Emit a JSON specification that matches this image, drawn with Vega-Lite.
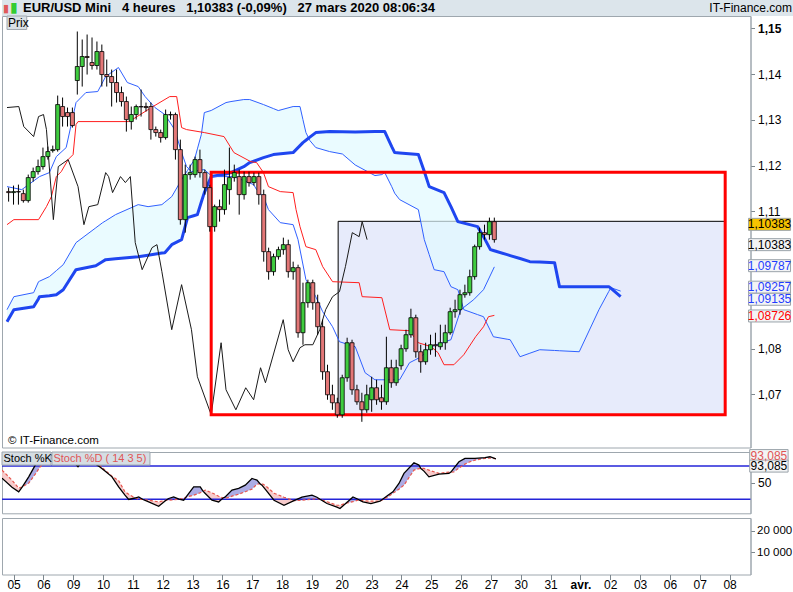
{
  "$schema": "https://vega.github.io/schema/vega-lite/v6.json",
  "padding": 0,
  "background": "white",
  "spacing": 0,
  "bounds": "flush",
  "config": {
    "font": "Liberation Sans",
    "view": {"stroke": "#9ea7ae"},
    "axis": {"labelFont": "Liberation Sans", "labelFontSize": 12, "labelColor": "#000", "tickColor": "#7d878e", "domainColor": "#9ea7ae", "grid": false},
    "text": {"font": "Liberation Sans"}
  },
  "datasets": {
    "bougies": [
      {"i":-2,"o":1.11433,"h":1.11520,"l":1.11214,"c":1.11411},
      {"i":-1,"o":1.11411,"h":1.11564,"l":1.11148,"c":1.11433},
      {"i":0,"o":1.11433,"h":1.11586,"l":1.11148,"c":1.11425},
      {"i":1,"o":1.11389,"h":1.11476,"l":1.11192,"c":1.11236},
      {"i":2,"o":1.11236,"h":1.11805,"l":1.11192,"c":1.11739},
      {"i":3,"o":1.11739,"h":1.11958,"l":1.11651,"c":1.11870},
      {"i":4,"o":1.11870,"h":1.12133,"l":1.11805,"c":1.11980},
      {"i":5,"o":1.11980,"h":1.12395,"l":1.11914,"c":1.12198},
      {"i":6,"o":1.12198,"h":1.12417,"l":1.12133,"c":1.12308},
      {"i":7,"o":1.12330,"h":1.12439,"l":1.12286,"c":1.12351},
      {"i":8,"o":1.12351,"h":1.13533,"l":1.12308,"c":1.13336},
      {"i":9,"o":1.13293,"h":1.13490,"l":1.12855,"c":1.13074},
      {"i":10,"o":1.13161,"h":1.13271,"l":1.12855,"c":1.13074},
      {"i":11,"o":1.13161,"h":1.13271,"l":1.12833,"c":1.12877},
      {"i":12,"o":1.13862,"h":1.14934,"l":1.13555,"c":1.14168},
      {"i":13,"o":1.14168,"h":1.14759,"l":1.13730,"c":1.14387},
      {"i":14,"o":1.14387,"h":1.14868,"l":1.13993,"c":1.14365},
      {"i":15,"o":1.14255,"h":1.14803,"l":1.14102,"c":1.14190},
      {"i":16,"o":1.14190,"h":1.14715,"l":1.14102,"c":1.14496},
      {"i":17,"o":1.14496,"h":1.14649,"l":1.13730,"c":1.13993},
      {"i":18,"o":1.13993,"h":1.14321,"l":1.13730,"c":1.13949},
      {"i":19,"o":1.13949,"h":1.14102,"l":1.13293,"c":1.13818},
      {"i":20,"o":1.13818,"h":1.14102,"l":1.13380,"c":1.13599},
      {"i":21,"o":1.13599,"h":1.13730,"l":1.13293,"c":1.13402},
      {"i":22,"o":1.13402,"h":1.13511,"l":1.12745,"c":1.13008},
      {"i":23,"o":1.12964,"h":1.13293,"l":1.12789,"c":1.13118},
      {"i":24,"o":1.13118,"h":1.13336,"l":1.13008,"c":1.13293},
      {"i":25,"o":1.13293,"h":1.13665,"l":1.13074,"c":1.13285},
      {"i":26,"o":1.13293,"h":1.13380,"l":1.13183,"c":1.13271},
      {"i":27,"o":1.13293,"h":1.13380,"l":1.12570,"c":1.12789},
      {"i":28,"o":1.12789,"h":1.12855,"l":1.12636,"c":1.12724},
      {"i":29,"o":1.12724,"h":1.12789,"l":1.12505,"c":1.12614},
      {"i":30,"o":1.12614,"h":1.13227,"l":1.12570,"c":1.13118},
      {"i":31,"o":1.13118,"h":1.13183,"l":1.13008,"c":1.13110},
      {"i":32,"o":1.13118,"h":1.13161,"l":1.12133,"c":1.12351},
      {"i":33,"o":1.12351,"h":1.12570,"l":1.10710,"c":1.10820},
      {"i":34,"o":1.10820,"h":1.12023,"l":1.10535,"c":1.11805},
      {"i":35,"o":1.11805,"h":1.12023,"l":1.11695,"c":1.11848},
      {"i":36,"o":1.11805,"h":1.12198,"l":1.11739,"c":1.12133},
      {"i":37,"o":1.12133,"h":1.12351,"l":1.11739,"c":1.11848},
      {"i":38,"o":1.11848,"h":1.11914,"l":1.11367,"c":1.11520},
      {"i":39,"o":1.11520,"h":1.11586,"l":1.10557,"c":1.10667},
      {"i":40,"o":1.10667,"h":1.11148,"l":1.10557,"c":1.11104},
      {"i":41,"o":1.11104,"h":1.11258,"l":1.10776,"c":1.11039},
      {"i":42,"o":1.11039,"h":1.11914,"l":1.10929,"c":1.11586},
      {"i":43,"o":1.11476,"h":1.12395,"l":1.11148,"c":1.11739},
      {"i":44,"o":1.11739,"h":1.12023,"l":1.11651,"c":1.11848},
      {"i":45,"o":1.11761,"h":1.11914,"l":1.10929,"c":1.11367},
      {"i":46,"o":1.11367,"h":1.11870,"l":1.11258,"c":1.11761},
      {"i":47,"o":1.11761,"h":1.11870,"l":1.11542,"c":1.11630},
      {"i":48,"o":1.11630,"h":1.11848,"l":1.11564,"c":1.11761},
      {"i":49,"o":1.11761,"h":1.11848,"l":1.11148,"c":1.11367},
      {"i":50,"o":1.11367,"h":1.11476,"l":1.09901,"c":1.10120},
      {"i":51,"o":1.10120,"h":1.10207,"l":1.09507,"c":1.09682},
      {"i":52,"o":1.09682,"h":1.10076,"l":1.09595,"c":1.10010},
      {"i":53,"o":1.10010,"h":1.10229,"l":1.09945,"c":1.10164},
      {"i":54,"o":1.10164,"h":1.10426,"l":1.10054,"c":1.10273},
      {"i":55,"o":1.10273,"h":1.10382,"l":1.09551,"c":1.09682},
      {"i":56,"o":1.09682,"h":1.09901,"l":1.09507,"c":1.09770},
      {"i":57,"o":1.09770,"h":1.09835,"l":1.08238,"c":1.08347},
      {"i":58,"o":1.08347,"h":1.09441,"l":1.08084,"c":1.09004},
      {"i":59,"o":1.09004,"h":1.09507,"l":1.08894,"c":1.09441},
      {"i":60,"o":1.09441,"h":1.09507,"l":1.08850,"c":1.09004},
      {"i":61,"o":1.09004,"h":1.09179,"l":1.08303,"c":1.08478},
      {"i":62,"o":1.08478,"h":1.08632,"l":1.07318,"c":1.07494},
      {"i":63,"o":1.07494,"h":1.07647,"l":1.06881,"c":1.06990},
      {"i":64,"o":1.06990,"h":1.07209,"l":1.06662,"c":1.06815},
      {"i":65,"o":1.06815,"h":1.06925,"l":1.06487,"c":1.06552},
      {"i":66,"o":1.06552,"h":1.07428,"l":1.06487,"c":1.07362},
      {"i":67,"o":1.07362,"h":1.08238,"l":1.07275,"c":1.08128},
      {"i":68,"o":1.08128,"h":1.08194,"l":1.06990,"c":1.07100},
      {"i":69,"o":1.07100,"h":1.07209,"l":1.06771,"c":1.06837},
      {"i":70,"o":1.06837,"h":1.07034,"l":1.06399,"c":1.06662},
      {"i":71,"o":1.06662,"h":1.07209,"l":1.06596,"c":1.06990},
      {"i":72,"o":1.06881,"h":1.07384,"l":1.06618,"c":1.07143},
      {"i":73,"o":1.07143,"h":1.07318,"l":1.06771,"c":1.06881},
      {"i":74,"o":1.06925,"h":1.07209,"l":1.06662,"c":1.06837},
      {"i":75,"o":1.06837,"h":1.08259,"l":1.06771,"c":1.07581},
      {"i":76,"o":1.07581,"h":1.07756,"l":1.07143,"c":1.07253},
      {"i":77,"o":1.07253,"h":1.07756,"l":1.07187,"c":1.07581},
      {"i":78,"o":1.07625,"h":1.08084,"l":1.07537,"c":1.07997},
      {"i":79,"o":1.07997,"h":1.08413,"l":1.07931,"c":1.08303},
      {"i":80,"o":1.08303,"h":1.08872,"l":1.08238,"c":1.08675},
      {"i":81,"o":1.08675,"h":1.08741,"l":1.07800,"c":1.07931},
      {"i":82,"o":1.07931,"h":1.08084,"l":1.07472,"c":1.07712},
      {"i":83,"o":1.07712,"h":1.08128,"l":1.07647,"c":1.07975},
      {"i":84,"o":1.07975,"h":1.08303,"l":1.07866,"c":1.08084},
      {"i":85,"o":1.08084,"h":1.08347,"l":1.07822,"c":1.08063},
      {"i":86,"o":1.08041,"h":1.08522,"l":1.07975,"c":1.08128},
      {"i":87,"o":1.08128,"h":1.08522,"l":1.07975,"c":1.08347},
      {"i":88,"o":1.08347,"h":1.08894,"l":1.08303,"c":1.08807},
      {"i":89,"o":1.08807,"h":1.09069,"l":1.08675,"c":1.08850},
      {"i":90,"o":1.08850,"h":1.09288,"l":1.08741,"c":1.09179},
      {"i":91,"o":1.09179,"h":1.09398,"l":1.09113,"c":1.09222},
      {"i":92,"o":1.09222,"h":1.09726,"l":1.09157,"c":1.09573},
      {"i":93,"o":1.09573,"h":1.10273,"l":1.09507,"c":1.10229},
      {"i":94,"o":1.10229,"h":1.10645,"l":1.10164,"c":1.10535},
      {"i":95,"o":1.10535,"h":1.10710,"l":1.10382,"c":1.10492},
      {"i":96,"o":1.10492,"h":1.10864,"l":1.10382,"c":1.10776},
      {"i":97,"o":1.10776,"h":1.10864,"l":1.10317,"c":1.10383}
    ],
    "nuage": [
      {"i":-2.33,"a":1.08851,"b":1.08588},
      {"i":-0.93,"a":1.09135,"b":1.08851},
      {"i":3.10,"a":1.09223,"b":1.08916},
      {"i":4.10,"a":1.09463,"b":1.09091},
      {"i":4.30,"a":1.09474,"b":1.09135},
      {"i":6.31,"a":1.09573,"b":1.09157},
      {"i":7.72,"a":1.09704,"b":1.09179},
      {"i":9.13,"a":1.09835,"b":1.09288},
      {"i":11.74,"a":1.10317,"b":1.09726},
      {"i":15.77,"a":1.10641,"b":1.09813},
      {"i":17.17,"a":1.10754,"b":1.09905},
      {"i":17.78,"a":1.10794,"b":1.09945},
      {"i":19.79,"a":1.10929,"b":1.09964},
      {"i":24.41,"a":1.11148,"b":1.10010},
      {"i":26.42,"a":1.11104,"b":1.10043},
      {"i":29.24,"a":1.11148,"b":1.10089},
      {"i":29.84,"a":1.11201,"b":1.10098},
      {"i":31.25,"a":1.11323,"b":1.10273},
      {"i":33.26,"a":1.11695,"b":1.10382},
      {"i":34.47,"a":1.11897,"b":1.10864},
      {"i":35.88,"a":1.12133,"b":1.10910},
      {"i":36.48,"a":1.12367,"b":1.10929},
      {"i":37.28,"a":1.12680,"b":1.11205},
      {"i":37.89,"a":1.13161,"b":1.11411},
      {"i":39.29,"a":1.13207,"b":1.11761},
      {"i":42.31,"a":1.13380,"b":1.11818},
      {"i":43.32,"a":1.13402,"b":1.11848},
      {"i":45.93,"a":1.13446,"b":1.11978},
      {"i":47.14,"a":1.13446,"b":1.12067},
      {"i":49.95,"a":1.13336,"b":1.12177},
      {"i":51.96,"a":1.13249,"b":1.12242},
      {"i":52.97,"a":1.13205,"b":1.12253},
      {"i":55.99,"a":1.13293,"b":1.12286},
      {"i":57.39,"a":1.13293,"b":1.12439},
      {"i":57.99,"a":1.13008,"b":1.12505},
      {"i":58.60,"a":1.12724,"b":1.12555},
      {"i":59.40,"a":1.12549,"b":1.12623},
      {"i":60.61,"a":1.12396,"b":1.12724},
      {"i":63.43,"a":1.12308,"b":1.12746},
      {"i":66.04,"a":1.12255,"b":1.12741},
      {"i":68.65,"a":1.12015,"b":1.12737},
      {"i":72.67,"a":1.11783,"b":1.12746},
      {"i":74.08,"a":1.11805,"b":1.12746},
      {"i":74.67,"a":1.11848,"b":1.12746},
      {"i":76.09,"a":1.11542,"b":1.12417},
      {"i":76.69,"a":1.11398,"b":1.12286},
      {"i":77.70,"a":1.11258,"b":1.12275},
      {"i":81.52,"a":1.11039,"b":1.12242},
      {"i":82.73,"a":1.10382,"b":1.11870},
      {"i":83.73,"a":1.10054,"b":1.11542},
      {"i":84.74,"a":1.09726,"b":1.11498},
      {"i":86.75,"a":1.09682,"b":1.11411},
      {"i":88.16,"a":1.09354,"b":1.11104},
      {"i":89.57,"a":1.09288,"b":1.10776},
      {"i":90.78,"a":1.08851,"b":1.10743},
      {"i":93.59,"a":1.08743,"b":1.10667},
      {"i":94.80,"a":1.08697,"b":1.10448},
      {"i":96.21,"a":1.08391,"b":1.10164},
      {"i":96.81,"a":1.08259,"b":1.10144},
      {"i":99.62,"a":1.08205,"b":1.10054},
      {"i":100.23,"a":1.08194,"b":1.10034},
      {"i":102.24,"a":1.07822,"b":1.09969},
      {"i":104.25,"a":1.07899,"b":1.09901},
      {"i":106.26,"a":1.07975,"b":1.09892},
      {"i":109.28,"a":1.07959,"b":1.09879},
      {"i":110.28,"a":1.07953,"b":1.09354},
      {"i":114.31,"a":1.07931,"b":1.09354},
      {"i":118.33,"a":1.08851,"b":1.09354},
      {"i":120.34,"a":1.09251,"b":1.09354},
      {"i":120.74,"a":1.09332,"b":1.09321},
      {"i":122.75,"a":1.09257,"b":1.09135}
    ],
    "tenkan": [
      {"i":-2.33,"p":1.10710},{"i":-0.93,"p":1.10820},{"i":4.10,"p":1.10820},{"i":5.71,"p":1.11104},
      {"i":6.72,"p":1.11323},{"i":7.72,"p":1.11761},{"i":8.73,"p":1.11870},{"i":10.13,"p":1.12133},
      {"i":11.14,"p":1.12242},{"i":11.74,"p":1.12899},{"i":12.15,"p":1.12964},{"i":22.40,"p":1.12964},
      {"i":23.21,"p":1.13008},{"i":27.43,"p":1.13293},{"i":30.85,"p":1.13511},{"i":32.26,"p":1.13511},
      {"i":33.26,"p":1.12833},{"i":34.27,"p":1.12789},{"i":37.89,"p":1.12724},{"i":41.91,"p":1.12636},
      {"i":43.92,"p":1.12286},{"i":47.34,"p":1.12089},{"i":48.55,"p":1.12067},{"i":49.95,"p":1.11848},
      {"i":50.96,"p":1.11542},{"i":53.37,"p":1.11433},{"i":55.99,"p":1.11411},{"i":56.59,"p":1.11039},
      {"i":57.39,"p":1.10667},{"i":58.60,"p":1.10229},{"i":60.61,"p":1.10164},{"i":62.02,"p":1.09792},
      {"i":64.03,"p":1.09463},{"i":69.45,"p":1.09441},{"i":70.06,"p":1.09135},
      {"i":74.08,"p":1.09113},{"i":75.69,"p":1.08413},{"i":79.71,"p":1.08391},{"i":81.52,"p":1.08128},
      {"i":84.13,"p":1.08041},{"i":85.54,"p":1.07909},{"i":86.75,"p":1.07647},{"i":88.76,"p":1.07647},
      {"i":90.78,"p":1.07866},{"i":93.19,"p":1.08259},{"i":94.80,"p":1.08478},{"i":95.80,"p":1.08697},
      {"i":97.01,"p":1.08726}
    ],
    "kijun": [
      {"i":-2.33,"p":1.11542},{"i":0.68,"p":1.11476},{"i":4.30,"p":1.11761},{"i":6.31,"p":1.11848},
      {"i":7.72,"p":1.12198},{"i":9.73,"p":1.12395},{"i":11.74,"p":1.13380},{"i":13.75,"p":1.13599},
      {"i":16.17,"p":1.13621},{"i":17.78,"p":1.13949},{"i":20.39,"p":1.14146},{"i":22.20,"p":1.13818},
      {"i":24.41,"p":1.13730},{"i":25.82,"p":1.13511},{"i":27.83,"p":1.13271},{"i":29.84,"p":1.13118},
      {"i":31.85,"p":1.12789},{"i":33.26,"p":1.12286},{"i":34.27,"p":1.11980},{"i":35.27,"p":1.11870},
      {"i":37.89,"p":1.11914},{"i":39.50,"p":1.11761},{"i":43.92,"p":1.11761},{"i":47.94,"p":1.11586},
      {"i":48.55,"p":1.11476},{"i":49.95,"p":1.11323},{"i":50.96,"p":1.11039},{"i":53.37,"p":1.10754},
      {"i":55.99,"p":1.10710},{"i":56.99,"p":1.10382},{"i":58.60,"p":1.09507},{"i":60.61,"p":1.09135},
      {"i":62.02,"p":1.08807},{"i":64.03,"p":1.08478},{"i":65.44,"p":1.08150},{"i":68.65,"p":1.08041},
      {"i":70.66,"p":1.07472},{"i":72.67,"p":1.07318},{"i":77.70,"p":1.07318},{"i":79.71,"p":1.07690},
      {"i":82.12,"p":1.07822},{"i":84.13,"p":1.08041},{"i":88.16,"p":1.08194},{"i":90.17,"p":1.08851},
      {"i":92.79,"p":1.09069},{"i":94.80,"p":1.09288},{"i":97.01,"p":1.09787}
    ],
    "chikou": [
      {"i":-2.33,"p":1.13271},{"i":0.08,"p":1.13293},{"i":1.09,"p":1.12855},{"i":3.10,"p":1.12636},
      {"i":4.10,"p":1.13074},{"i":5.11,"p":1.13118},{"i":5.71,"p":1.12789},{"i":7.12,"p":1.10820},
      {"i":8.12,"p":1.11980},{"i":10.13,"p":1.12133},{"i":12.15,"p":1.11542},{"i":13.35,"p":1.10710},
      {"i":14.36,"p":1.11104},{"i":16.17,"p":1.11148},{"i":17.78,"p":1.11848},{"i":18.38,"p":1.11761},
      {"i":19.19,"p":1.11411},{"i":20.80,"p":1.11761},{"i":21.80,"p":1.11630},{"i":22.81,"p":1.11761},
      {"i":23.81,"p":1.10317},{"i":25.22,"p":1.09726},{"i":27.23,"p":1.10207},{"i":28.24,"p":1.10273},
      {"i":29.24,"p":1.09682},{"i":31.25,"p":1.08413},{"i":33.26,"p":1.09398},{"i":35.27,"p":1.08413},
      {"i":36.48,"p":1.07384},{"i":39.29,"p":1.06552},{"i":41.31,"p":1.08128},{"i":42.31,"p":1.07100},
      {"i":44.32,"p":1.06662},{"i":46.33,"p":1.07143},{"i":47.94,"p":1.06881},{"i":49.35,"p":1.07581},
      {"i":50.35,"p":1.07253},{"i":53.97,"p":1.08632},{"i":54.98,"p":1.07975},{"i":55.99,"p":1.07712},
      {"i":57.39,"p":1.08019},{"i":58.40,"p":1.08084},{"i":60.01,"p":1.08084},{"i":61.42,"p":1.08413},
      {"i":62.62,"p":1.08851},{"i":64.03,"p":1.09135},{"i":65.44,"p":1.09244},{"i":66.65,"p":1.09792},
      {"i":68.05,"p":1.10535},{"i":69.45,"p":1.10448},{"i":70.06,"p":1.10776},{"i":71.07,"p":1.10382}
    ],
    "etiquettes": [
      {"s":"cours","p":1.10717,"t":"1,10383"},
      {"s":"chikou","p":1.10273,"t":"1,10383"},
      {"s":"kijun","p":1.09813,"t":"1,09787"},
      {"s":"ssa","p":1.09343,"t":"1,09257"},
      {"s":"ssb","p":1.09078,"t":"1,09135"},
      {"s":"tenkan","p":1.08713,"t":"1,08726"}
    ],
    "stoch": [
      {"i":-2.33,"k":58.2,"d":72.7,"seg":1,"sens":"bas"},
      {"i":-0.32,"k":41.8,"d":54.5,"seg":1,"sens":"bas"},
      {"i":1.03,"k":33.3,"d":40.0,"seg":1,"sens":"bas"},
      {"i":1.79,"k":42.7,"d":42.7,"seg":1,"sens":"bas"},
      {"i":1.79,"k":42.7,"d":42.7,"seg":2,"sens":"haut"},
      {"i":3.04,"k":60.5,"d":49.1,"seg":2,"sens":"haut"},
      {"i":4.36,"k":81.8,"d":65.5,"seg":2,"sens":"haut"},
      {"i":5.31,"k":96.4,"d":78.2,"seg":2,"sens":"haut"},
      {"i":6.72,"k":100,"d":90.9,"seg":2,"sens":"haut"},
      {"i":9.73,"k":100,"d":98.2,"seg":2,"sens":"haut"},
      {"i":10.34,"k":98.2,"d":98.2,"seg":2,"sens":"haut"},
      {"i":10.34,"k":98.2,"d":98.2,"seg":3,"sens":"bas"},
      {"i":11.74,"k":90.9,"d":98.2,"seg":3,"sens":"bas"},
      {"i":12.95,"k":78.7,"d":90.9,"seg":3,"sens":"bas"},
      {"i":13.76,"k":89.1,"d":89.1,"seg":3,"sens":"bas"},
      {"i":13.76,"k":89.1,"d":89.1,"seg":4,"sens":"haut"},
      {"i":14.76,"k":98.2,"d":87.3,"seg":4,"sens":"haut"},
      {"i":16.17,"k":85.5,"d":85.5,"seg":4,"sens":"haut"},
      {"i":16.17,"k":85.5,"d":85.5,"seg":5,"sens":"bas"},
      {"i":17.11,"k":80.0,"d":83.6,"seg":5,"sens":"bas"},
      {"i":18.38,"k":70.9,"d":72.7,"seg":5,"sens":"bas"},
      {"i":19.79,"k":60.5,"d":61.8,"seg":5,"sens":"bas"},
      {"i":21.13,"k":42.4,"d":53.6,"seg":5,"sens":"bas"},
      {"i":22.40,"k":27.3,"d":33.3,"seg":5,"sens":"bas"},
      {"i":23.15,"k":19.5,"d":29.1,"seg":5,"sens":"bas"},
      {"i":24.41,"k":22.2,"d":22.2,"seg":5,"sens":"bas"},
      {"i":24.41,"k":22.2,"d":22.2,"seg":6,"sens":"haut"},
      {"i":25.16,"k":24.2,"d":20.0,"seg":6,"sens":"haut"},
      {"i":26.02,"k":19.5,"d":19.5,"seg":6,"sens":"haut"},
      {"i":26.02,"k":19.5,"d":19.5,"seg":7,"sens":"bas"},
      {"i":27.17,"k":15.1,"d":18.2,"seg":7,"sens":"bas"},
      {"i":29.18,"k":7.3,"d":15.1,"seg":7,"sens":"bas"},
      {"i":30.65,"k":18.2,"d":18.2,"seg":7,"sens":"bas"},
      {"i":30.65,"k":18.2,"d":18.2,"seg":8,"sens":"haut"},
      {"i":31.19,"k":21.3,"d":18.2,"seg":8,"sens":"haut"},
      {"i":32.19,"k":24.2,"d":19.1,"seg":8,"sens":"haut"},
      {"i":33.26,"k":20.0,"d":20.0,"seg":8,"sens":"haut"},
      {"i":33.26,"k":20.0,"d":20.0,"seg":9,"sens":"bas"},
      {"i":34.21,"k":18.2,"d":21.3,"seg":9,"sens":"bas"},
      {"i":34.67,"k":23.6,"d":23.6,"seg":9,"sens":"bas"},
      {"i":34.67,"k":23.6,"d":23.6,"seg":10,"sens":"haut"},
      {"i":36.22,"k":42.4,"d":27.3,"seg":10,"sens":"haut"},
      {"i":37.54,"k":42.4,"d":31.8,"seg":10,"sens":"haut"},
      {"i":38.09,"k":34.5,"d":34.5,"seg":10,"sens":"haut"},
      {"i":38.09,"k":34.5,"d":34.5,"seg":11,"sens":"bas"},
      {"i":38.55,"k":30.4,"d":36.4,"seg":11,"sens":"bas"},
      {"i":39.90,"k":18.2,"d":31.5,"seg":11,"sens":"bas"},
      {"i":41.24,"k":15.1,"d":25.5,"seg":11,"sens":"bas"},
      {"i":42.11,"k":22.2,"d":22.2,"seg":11,"sens":"bas"},
      {"i":42.11,"k":22.2,"d":22.2,"seg":12,"sens":"haut"},
      {"i":42.51,"k":23.6,"d":21.3,"seg":12,"sens":"haut"},
      {"i":43.92,"k":36.4,"d":25.5,"seg":12,"sens":"haut"},
      {"i":45.27,"k":39.5,"d":29.1,"seg":12,"sens":"haut"},
      {"i":46.59,"k":45.5,"d":33.6,"seg":12,"sens":"haut"},
      {"i":47.94,"k":57.6,"d":38.2,"seg":12,"sens":"haut"},
      {"i":48.95,"k":54.5,"d":47.3,"seg":12,"sens":"haut"},
      {"i":49.55,"k":48.0,"d":48.0,"seg":12,"sens":"haut"},
      {"i":49.55,"k":48.0,"d":48.0,"seg":13,"sens":"bas"},
      {"i":49.95,"k":45.5,"d":48.5,"seg":13,"sens":"bas"},
      {"i":50.76,"k":36.4,"d":43.6,"seg":13,"sens":"bas"},
      {"i":52.37,"k":18.2,"d":30.9,"seg":13,"sens":"bas"},
      {"i":54.38,"k":9.1,"d":23.6,"seg":13,"sens":"bas"},
      {"i":56.39,"k":17.3,"d":17.3,"seg":13,"sens":"bas"},
      {"i":56.39,"k":17.3,"d":17.3,"seg":14,"sens":"haut"},
      {"i":57.99,"k":23.6,"d":18.2,"seg":14,"sens":"haut"},
      {"i":60.01,"k":27.3,"d":20.0,"seg":14,"sens":"haut"},
      {"i":61.01,"k":23.6,"d":21.3,"seg":14,"sens":"haut"},
      {"i":61.62,"k":20.0,"d":20.0,"seg":14,"sens":"haut"},
      {"i":61.62,"k":20.0,"d":20.0,"seg":15,"sens":"bas"},
      {"i":63.02,"k":12.2,"d":15.5,"seg":15,"sens":"bas"},
      {"i":65.03,"k":5.5,"d":9.1,"seg":15,"sens":"bas"},
      {"i":65.64,"k":3.1,"d":9.1,"seg":15,"sens":"bas"},
      {"i":66.84,"k":12.7,"d":12.7,"seg":15,"sens":"bas"},
      {"i":66.84,"k":12.7,"d":12.7,"seg":16,"sens":"haut"},
      {"i":68.25,"k":24.2,"d":15.5,"seg":16,"sens":"haut"},
      {"i":69.26,"k":20.0,"d":18.2,"seg":16,"sens":"haut"},
      {"i":69.66,"k":17.8,"d":17.8,"seg":16,"sens":"haut"},
      {"i":69.66,"k":17.8,"d":17.8,"seg":17,"sens":"bas"},
      {"i":70.26,"k":15.1,"d":17.3,"seg":17,"sens":"bas"},
      {"i":71.87,"k":12.2,"d":16.4,"seg":17,"sens":"bas"},
      {"i":73.68,"k":16.4,"d":16.4,"seg":17,"sens":"bas"},
      {"i":73.68,"k":16.4,"d":16.4,"seg":18,"sens":"haut"},
      {"i":75.29,"k":27.3,"d":24.2,"seg":18,"sens":"haut"},
      {"i":76.29,"k":33.3,"d":30.9,"seg":18,"sens":"haut"},
      {"i":77.50,"k":48.5,"d":38.2,"seg":18,"sens":"haut"},
      {"i":78.51,"k":66.7,"d":45.5,"seg":18,"sens":"haut"},
      {"i":80.52,"k":86.0,"d":72.7,"seg":18,"sens":"haut"},
      {"i":81.52,"k":81.8,"d":75.5,"seg":18,"sens":"haut"},
      {"i":81.92,"k":75.6,"d":75.6,"seg":18,"sens":"haut"},
      {"i":81.92,"k":75.6,"d":75.6,"seg":19,"sens":"bas"},
      {"i":82.53,"k":70.9,"d":75.8,"seg":19,"sens":"bas"},
      {"i":83.53,"k":60.5,"d":72.7,"seg":19,"sens":"bas"},
      {"i":85.54,"k":65.5,"d":66.7,"seg":19,"sens":"bas"},
      {"i":87.55,"k":66.7,"d":69.1,"seg":19,"sens":"bas"},
      {"i":87.95,"k":69.1,"d":69.1,"seg":19,"sens":"bas"},
      {"i":87.95,"k":69.1,"d":69.1,"seg":20,"sens":"haut"},
      {"i":88.56,"k":76.4,"d":69.6,"seg":20,"sens":"haut"},
      {"i":89.57,"k":87.8,"d":76.4,"seg":20,"sens":"haut"},
      {"i":90.78,"k":94.0,"d":83.6,"seg":20,"sens":"haut"},
      {"i":91.78,"k":94.0,"d":87.8,"seg":20,"sens":"haut"},
      {"i":92.79,"k":94.0,"d":90.9,"seg":20,"sens":"haut"},
      {"i":94.80,"k":95.5,"d":94.0,"seg":20,"sens":"haut"},
      {"i":95.80,"k":96.9,"d":94.5,"seg":20,"sens":"haut"},
      {"i":97.0,"k":93.1,"d":93.6,"seg":20,"sens":"haut"}
    ]
  },
  "vconcat": [
    {
      "width": 793,
      "height": 16,
      "view": {"fill": "#dce5eb", "stroke": null},
      "data": {"values": [
        {"pos": "g", "t": "EUR/USD Mini\u00a0\u00a0 4 heures\u00a0\u00a0 1,10383 (-0,09%)\u00a0\u00a0 27 mars 2020 08:06:34"},
        {"pos": "d", "t": "IT-Finance.com"}
      ]},
      "encoding": {
        "x": {"field": "pos", "type": "nominal", "scale": {"type": "point", "domain": ["g", "d"], "padding": 0}, "axis": null}
      },
      "layer": [
        {
          "transform": [{"filter": "datum.pos == 'g'"}],
          "mark": {"type": "text", "align": "left", "baseline": "middle", "dx": 21, "fontSize": 13, "fontWeight": "bold", "color": "#000"},
          "encoding": {"text": {"field": "t"}}
        },
        {
          "transform": [{"filter": "datum.pos == 'd'"}],
          "mark": {"type": "text", "align": "right", "baseline": "middle", "dx": -3, "fontSize": 12, "color": "#000"},
          "encoding": {"text": {"field": "t"}}
        },
        {
          "transform": [{"filter": "datum.pos == 'g'"}],
          "mark": {"type": "text", "align": "left", "baseline": "middle", "dx": 1, "dy": 1, "fontSize": 11, "color": "#e05a5a"},
          "encoding": {"text": {"value": "▮"}}
        },
        {
          "transform": [{"filter": "datum.pos == 'g'"}],
          "mark": {"type": "text", "align": "left", "baseline": "middle", "dx": 8, "fontSize": 14, "color": "#33cc33"},
          "encoding": {"text": {"value": "▮"}}
        }
      ]
    },
    {
      "spacing": 4,
      "bounds": "flush",
      "resolve": {"scale": {"fill": "independent", "color": "independent"}},
      "vconcat": [
        {
          "width": 748.5,
          "height": 431.5,
          "layer": [
            {
              "data": {"values": [{}]},
              "mark": {"type": "rect", "fill": "#e7ebfb", "stroke": "#000", "strokeWidth": 1},
              "encoding": {
                "x": {"datum": 65.17, "type": "quantitative", "scale": {"domain": [-2.33, 148.2], "nice": false, "zero": false}, "axis": null},
                "x2": {"datum": 144.06},
                "y": {
                  "datum": 1.10783, "type": "quantitative",
                  "scale": {"domain": [1.05837, 1.15273], "nice": false, "zero": false},
                  "axis": {
                    "orient": "right", "title": null,
                    "values": [1.07, 1.08, 1.11, 1.12, 1.13, 1.14, 1.15],
                    "labelExpr": "replace(format(datum.value, '.2f'), '.', ',')",
                    "labelFontWeight": {"condition": {"test": "datum.value > 1.145", "value": "bold"}, "value": "normal"},
                    "tickSize": 4, "labelPadding": 3
                  }
                },
                "y2": {"datum": 1.06537}
              }
            },
            {
              "data": {"name": "nuage"},
              "mark": {"type": "area", "fill": "#e1f9ff", "opacity": 0.7, "clip": true},
              "encoding": {
                "x": {"field": "i", "type": "quantitative", "axis": null},
                "y": {"field": "a", "type": "quantitative", "title": null},
                "y2": {"field": "b"}
              }
            },
            {
              "data": {"name": "nuage"},
              "mark": {"type": "line", "color": "#3060ff", "strokeWidth": 1, "clip": true},
              "encoding": {
                "x": {"field": "i", "type": "quantitative", "axis": null},
                "y": {"field": "a", "type": "quantitative", "title": null}
              }
            },
            {
              "data": {"name": "nuage"},
              "mark": {"type": "line", "color": "#1f46f0", "strokeWidth": 3, "strokeJoin": "round", "clip": true},
              "encoding": {
                "x": {"field": "i", "type": "quantitative", "axis": null},
                "y": {"field": "b", "type": "quantitative", "title": null}
              }
            },
            {
              "data": {"name": "kijun"},
              "mark": {"type": "line", "color": "#3060ff", "strokeWidth": 1, "clip": true},
              "encoding": {
                "x": {"field": "i", "type": "quantitative", "axis": null},
                "y": {"field": "p", "type": "quantitative", "title": null}
              }
            },
            {
              "data": {"name": "tenkan"},
              "mark": {"type": "line", "color": "#ff1f1f", "strokeWidth": 1, "clip": true},
              "encoding": {
                "x": {"field": "i", "type": "quantitative", "axis": null},
                "y": {"field": "p", "type": "quantitative", "title": null}
              }
            },
            {
              "data": {"name": "chikou"},
              "mark": {"type": "line", "color": "#1a1a1a", "strokeWidth": 1, "clip": true},
              "encoding": {
                "x": {"field": "i", "type": "quantitative", "axis": null},
                "y": {"field": "p", "type": "quantitative", "title": null}
              }
            },
            {
              "data": {"values": [{}]},
              "mark": {"type": "rect", "fill": "#ffffff", "fillOpacity": 0, "stroke": "#ff0000", "strokeWidth": 3},
              "encoding": {
                "x": {"datum": 39.29, "type": "quantitative", "axis": null},
                "x2": {"datum": 144.06},
                "y": {"datum": 1.11855, "type": "quantitative"},
                "y2": {"datum": 1.06552}
              }
            },
            {
              "data": {"name": "bougies"},
              "mark": {"type": "rule", "color": "#000", "strokeWidth": 1},
              "encoding": {
                "x": {"field": "i", "type": "quantitative", "axis": null},
                "y": {"field": "l", "type": "quantitative", "title": null},
                "y2": {"field": "h"}
              }
            },
            {
              "data": {"name": "bougies"},
              "mark": {"type": "bar", "size": 4, "stroke": "#000", "strokeWidth": 0.8},
              "encoding": {
                "x": {"field": "i", "type": "quantitative", "axis": null},
                "y": {"field": "o", "type": "quantitative", "title": null},
                "y2": {"field": "c"},
                "fill": {"condition": {"test": "datum.c >= datum.o", "value": "#3fcc3f"}, "value": "#e37777"}
              }
            },
            {
              "data": {"name": "etiquettes"},
              "mark": {"type": "point", "shape": "M-1.75,-0.5H1.75V0.5H-1.75Z", "size": 576, "filled": true, "opacity": 1, "stroke": "#9aa3aa", "strokeWidth": 1},
              "encoding": {
                "x": {"datum": 153.1, "type": "quantitative", "axis": null},
                "y": {"field": "p", "type": "quantitative", "title": null},
                "fill": {"field": "s", "type": "nominal", "legend": null,
                  "scale": {"domain": ["cours", "chikou", "kijun", "ssa", "ssb", "tenkan"], "range": ["#f7c300", "#f3f4f5", "#f3f4f5", "#f3f4f5", "#f3f4f5", "#f3f4f5"]}}
              }
            },
            {
              "data": {"name": "etiquettes"},
              "mark": {"type": "text", "fontSize": 12, "align": "center", "baseline": "middle"},
              "encoding": {
                "x": {"datum": 153.1, "type": "quantitative", "axis": null},
                "y": {"field": "p", "type": "quantitative", "title": null},
                "text": {"field": "t"},
                "color": {"field": "s", "type": "nominal", "legend": null,
                  "scale": {"domain": ["cours", "chikou", "kijun", "ssa", "ssb", "tenkan"], "range": ["#000000", "#000000", "#1f3cff", "#1f3cff", "#1f3cff", "#ff0000"]}}
              }
            },
            {
              "data": {"values": [{}]},
              "mark": {"type": "rect", "fill": "#d9e0e5", "stroke": "#a0a8b0", "strokeWidth": 1},
              "encoding": {
                "x": {"datum": -2.33, "type": "quantitative", "axis": null},
                "x2": {"datum": 1.69},
                "y": {"datum": 1.15273, "type": "quantitative"},
                "y2": {"datum": 1.14978}
              }
            },
            {
              "data": {"values": [{"t": "Prix"}]},
              "mark": {"type": "text", "align": "left", "baseline": "middle", "dx": 1, "fontSize": 12, "color": "#000"},
              "encoding": {
                "x": {"datum": -2.33, "type": "quantitative", "axis": null},
                "y": {"datum": 1.15126, "type": "quantitative"},
                "text": {"field": "t"}
              }
            },
            {
              "data": {"values": [{"t": "© IT-Finance.com"}]},
              "mark": {"type": "text", "align": "left", "baseline": "middle", "dx": 1, "fontSize": 11.5, "color": "#000"},
              "encoding": {
                "x": {"datum": -2.33, "type": "quantitative", "axis": null},
                "y": {"datum": 1.05975, "type": "quantitative"},
                "text": {"field": "t"}
              }
            }
          ]
        },
        {
          "width": 748.5,
          "height": 61.3,
          "layer": [
            {
              "data": {"name": "stoch"},
              "mark": {"type": "area", "opacity": 0.9, "clip": true},
              "encoding": {
                "x": {"field": "i", "type": "quantitative", "scale": {"domain": [-2.33, 148.2], "nice": false, "zero": false}, "axis": null},
                "y": {
                  "field": "k", "type": "quantitative", "stack": null,
                  "scale": {"domain": [-5.5, 105.5], "nice": false, "zero": false},
                  "axis": {"orient": "right", "title": null, "values": [50], "tickSize": 4, "labelPadding": 3}
                },
                "y2": {"field": "d"},
                "detail": {"field": "seg"},
                "fill": {"field": "sens", "type": "nominal", "legend": null, "scale": {"domain": ["haut", "bas"], "range": ["#a3a3e2", "#f6c5c5"]}}
              }
            },
            {
              "data": {"values": [{"v": 80}, {"v": 20}]},
              "mark": {"type": "rule", "color": "#2424d8", "strokeWidth": 1.5},
              "encoding": {
                "x": {"datum": -2.33, "type": "quantitative", "axis": null},
                "x2": {"datum": 148.2},
                "y": {"field": "v", "type": "quantitative", "title": null}
              }
            },
            {
              "data": {"name": "stoch"},
              "mark": {"type": "line", "color": "#e8574f", "strokeWidth": 1.2, "strokeDash": [3, 2], "clip": true},
              "encoding": {
                "x": {"field": "i", "type": "quantitative", "axis": null},
                "y": {"field": "d", "type": "quantitative", "title": null}
              }
            },
            {
              "data": {"name": "stoch"},
              "mark": {"type": "line", "color": "#000", "strokeWidth": 1.3, "clip": true},
              "encoding": {
                "x": {"field": "i", "type": "quantitative", "axis": null},
                "y": {"field": "k", "type": "quantitative", "title": null}
              }
            },
            {
              "data": {"values": [{"a": -2.33, "b": 7.52}, {"a": 7.72, "b": 27.43}]},
              "mark": {"type": "rect", "fill": "#d5dde3", "stroke": "#9ea7ae", "strokeWidth": 1},
              "encoding": {
                "x": {"field": "a", "type": "quantitative", "axis": null},
                "x2": {"field": "b"},
                "y": {"datum": 105.5, "type": "quantitative"},
                "y2": {"datum": 81.8}
              }
            },
            {
              "data": {"values": [{"a": -2.33, "t": "Stoch %K", "s": "k"}, {"a": 7.72, "t": "Stoch %D ( 14 3 5)", "s": "d"}]},
              "mark": {"type": "text", "align": "left", "baseline": "middle", "dx": 1.5, "fontSize": 11},
              "encoding": {
                "x": {"field": "a", "type": "quantitative", "axis": null},
                "y": {"datum": 93.3, "type": "quantitative"},
                "text": {"field": "t"},
                "color": {"field": "s", "type": "nominal", "legend": null, "scale": {"domain": ["k", "d"], "range": ["#000000", "#e05555"]}}
              }
            },
            {
              "data": {"values": [{"s": "d", "v": 99, "t": "93,085"}, {"s": "k", "v": 80, "t": "93,085"}]},
              "mark": {"type": "point", "shape": "M-1.6,-0.5H1.6V0.5H-1.6Z", "size": 576, "filled": true, "opacity": 1, "fill": "#f3f4f5", "stroke": "#9aa3aa", "strokeWidth": 1},
              "encoding": {
                "x": {"datum": 151.9, "type": "quantitative", "axis": null},
                "y": {"field": "v", "type": "quantitative", "title": null}
              }
            },
            {
              "data": {"values": [{"s": "d", "v": 99, "t": "93,085"}, {"s": "k", "v": 80, "t": "93,085"}]},
              "mark": {"type": "text", "fontSize": 12, "align": "center", "baseline": "middle"},
              "encoding": {
                "x": {"datum": 151.9, "type": "quantitative", "axis": null},
                "y": {"field": "v", "type": "quantitative", "title": null},
                "text": {"field": "t"},
                "color": {"field": "s", "type": "nominal", "legend": null, "scale": {"domain": ["k", "d"], "range": ["#000000", "#e05555"]}}
              }
            }
          ]
        },
        {
          "width": 748.5,
          "height": 56.5,
          "data": {"name": "bougies"},
          "mark": {"type": "point", "opacity": 0},
          "encoding": {
            "x": {
              "field": "i", "type": "quantitative",
              "scale": {"domain": [-2.33, 148.2], "nice": false, "zero": false},
              "axis": {
                "title": null,
                "values": [0, 6, 12, 18, 24, 30, 36, 42, 48, 54, 60, 66, 72, 78, 84, 90, 96, 102, 108, 114, 120, 126, 132, 138, 144],
                "labelExpr": "['05','06','09','10','11','12','13','16','17','18','19','20','23','24','25','26','27','30','31','avr.','02','03','06','07','08'][round(datum.value / 6)]",
                "labelFontWeight": {"condition": {"test": "datum.value == 114", "value": "bold"}, "value": "normal"},
                "labelOverlap": false, "labelFlush": false,
                "tickSize": 5, "labelPadding": 0, "domain": false
              }
            },
            "y": {
              "datum": 0, "type": "quantitative",
              "scale": {"domain": [-600, 26150], "nice": false, "zero": false},
              "axis": {
                "orient": "right", "title": null, "values": [10000, 20000],
                "labelExpr": "replace(format(datum.value, ','), ',', ' ')",
                "labelFontSize": 11.5,
                "tickSize": 4, "labelPadding": 2
              }
            }
          }
        }
      ]
    }
  ]
}
